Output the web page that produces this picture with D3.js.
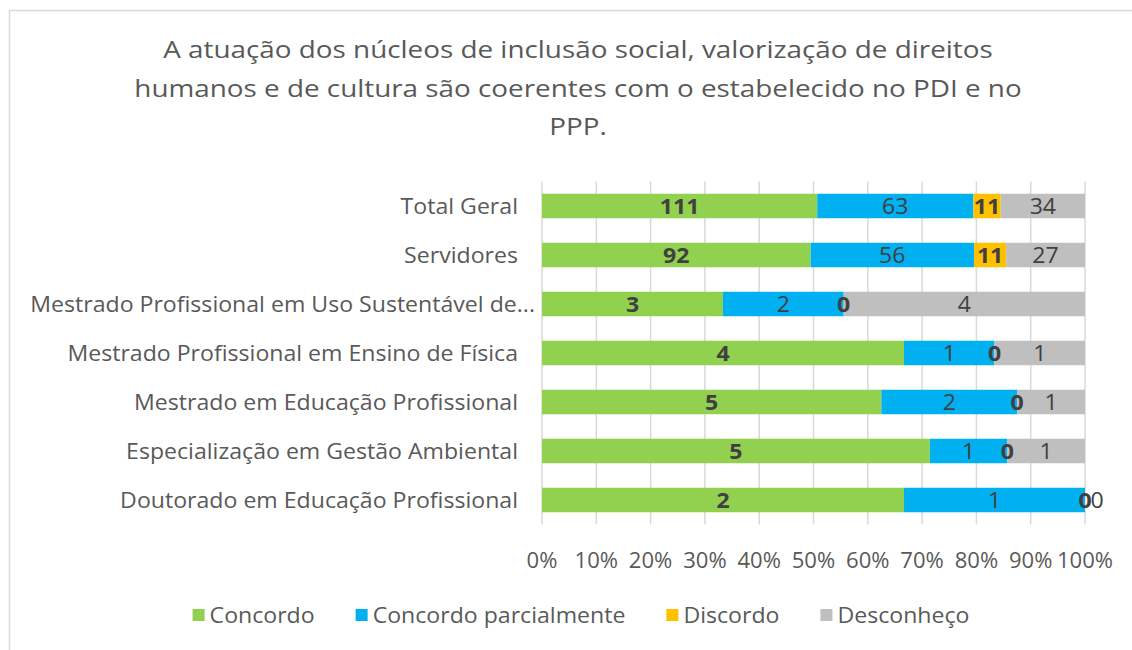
<!DOCTYPE html>
<html>
<head>
<meta charset="utf-8">
<script src="https://cdn.jsdelivr.net/npm/d3@7"></script>
<style>
  body { margin: 0; background: #fff; }
  svg { display: block; font-family: "Open Sans", sans-serif; }
</style>
</head>
<body>
<svg id="chart" width="1132" height="650"></svg>
<script>
// Data
const categories = [
  "Total Geral",
  "Servidores",
  "Mestrado Profissional em Uso Sustentável de...",
  "Mestrado Profissional em Ensino de Física",
  "Mestrado em Educação Profissional",
  "Especialização em Gestão Ambiental",
  "Doutorado em Educação Profissional"
];
const seriesNames = ["Concordo", "Concordo parcialmente", "Discordo", "Desconheço"];
const concordo = [111, 92, 3, 4, 5, 5, 2];
const concordoParcial = [63, 56, 2, 1, 2, 1, 1];
const discordo = [11, 11, 0, 0, 0, 0, 0];
const desconheco = [34, 27, 4, 1, 1, 1, 0];
const tickLabels = ["0%", "10%", "20%", "30%", "40%", "50%", "60%", "70%", "80%", "90%", "100%"];
const titleLines = [
  "A atuação dos núcleos de inclusão social, valorização de direitos",
  "humanos e de cultura são coerentes com o estabelecido no PDI e no",
  "PPP."
];

const colors = ["#92D050", "#00B0F0", "#FFC000", "#BFBFBF"];
const boldSeries = [true, false, true, false];

const width = 1132;
const height = 650;
const plot = { left: 542, right: 1085, top: 181.5, bottom: 524.5 };

const svg = d3.select("#chart");

// the original font is a bit wider than Open Sans, so widen the glyphs
function stretch(sel, k) {
  sel.each(function () {
    const w = this.getComputedTextLength();
    d3.select(this)
      .attr("textLength", w * k)
      .attr("lengthAdjust", "spacingAndGlyphs");
  });
}

// Chart frame
svg.append("rect")
  .attr("x", 9.5).attr("y", 10.5)
  .attr("width", 1200).attr("height", 700)
  .attr("fill", "#fff")
  .attr("stroke", "#D9D9D9")
  .attr("stroke-width", 1.5);

// Title
svg.append("g")
  .selectAll("text")
  .data(titleLines)
  .enter()
  .append("text")
  .attr("x", 578)
  .attr("y", (d, i) => 58 + i * 38.5)
  .attr("text-anchor", "middle")
  .attr("fill", "#595959")
  .style("font-size", "24px")
  .text(d => d)
  .call(stretch, 1.16);

// Stack the values into percentages
const rows = categories.map((c, i) => {
  const vals = [concordo[i], concordoParcial[i], discordo[i], desconheco[i]];
  const total = d3.sum(vals);
  let acc = 0;
  return {
    name: c,
    segs: vals.map((v, k) => {
      const s = { key: k, value: v, x0: acc / total, x1: (acc + v) / total };
      acc += v;
      return s;
    })
  };
});

const xScale = d3.scaleLinear().domain([0, 1]).range([plot.left, plot.right]);
const yScale = d3.scaleBand()
  .domain(categories)
  .range([plot.top, plot.bottom])
  .paddingInner(0.5)
  .paddingOuter(0.25);

// Gridlines
svg.append("g")
  .selectAll("line")
  .data(d3.range(0, 1.0001, 0.1))
  .enter()
  .append("line")
  .attr("x1", d => xScale(d)).attr("x2", d => xScale(d))
  .attr("y1", plot.top).attr("y2", plot.bottom)
  .attr("stroke", "#D9D9D9")
  .attr("stroke-width", 1.5);

// Bars
const rowG = svg.append("g")
  .selectAll("g")
  .data(rows)
  .enter()
  .append("g")
  .attr("transform", d => `translate(0,${yScale(d.name)})`);

rowG.selectAll("rect")
  .data(d => d.segs)
  .enter()
  .append("rect")
  .attr("x", d => xScale(d.x0))
  .attr("width", d => xScale(d.x1) - xScale(d.x0))
  .attr("height", yScale.bandwidth())
  .attr("fill", d => colors[d.key]);

// Data labels (zero labels sitting on the same spot are nudged right)
rowG.each(function (row) {
  const g = d3.select(this);
  let prevX = -100;
  row.segs.forEach(s => {
    let lx = xScale((s.x0 + s.x1) / 2);
    if (s.value === 0 && Math.abs(lx - prevX) < 10) lx = prevX + 12;
    prevX = lx;
    g.append("text")
      .attr("x", lx)
      .attr("y", yScale.bandwidth() / 2)
      .attr("dy", "0.36em")
      .attr("text-anchor", "middle")
      .attr("fill", "#404040")
      .style("font-size", "21px")
      .style("font-weight", boldSeries[s.key] ? "bold" : "normal")
      .text(s.value)
      .call(stretch, 1.1);
  });
});

// Category labels
svg.append("g")
  .selectAll("text")
  .data(categories)
  .enter()
  .append("text")
  .attr("x", d => d.endsWith("...") ? 535 : 518)
  .attr("y", d => yScale(d) + yScale.bandwidth() / 2)
  .attr("dy", "0.36em")
  .attr("text-anchor", "end")
  .attr("fill", "#595959")
  .style("font-size", "21px")
  .text(d => d)
  .call(stretch, 1.1);

// X axis tick labels
svg.append("g")
  .selectAll("text")
  .data(tickLabels)
  .enter()
  .append("text")
  .attr("x", (d, i) => xScale(i / 10))
  .attr("y", 560)
  .attr("dy", "0.36em")
  .attr("text-anchor", "middle")
  .attr("fill", "#595959")
  .style("font-size", "21px")
  .text(d => d)
  .call(stretch, 1.05);

// Legend
const legend = svg.append("g");
const items = legend.selectAll("g")
  .data(seriesNames)
  .enter()
  .append("g");
items.append("rect")
  .attr("y", -6)
  .attr("width", 12).attr("height", 12)
  .attr("fill", (d, i) => colors[i]);
items.append("text")
  .attr("x", 17)
  .attr("dy", "0.36em")
  .attr("fill", "#595959")
  .style("font-size", "21px")
  .text(d => d)
  .call(stretch, 1.1);
const gap = 41;
let lx = 0;
items.each(function () {
  const w = 17 + +this.querySelector("text").getAttribute("textLength");
  d3.select(this).attr("transform", `translate(${lx},0)`);
  lx += w + gap;
});
const legendW = lx - gap;
legend.attr("transform", `translate(${581 - legendW / 2},615)`);
</script>
</body>
</html>
